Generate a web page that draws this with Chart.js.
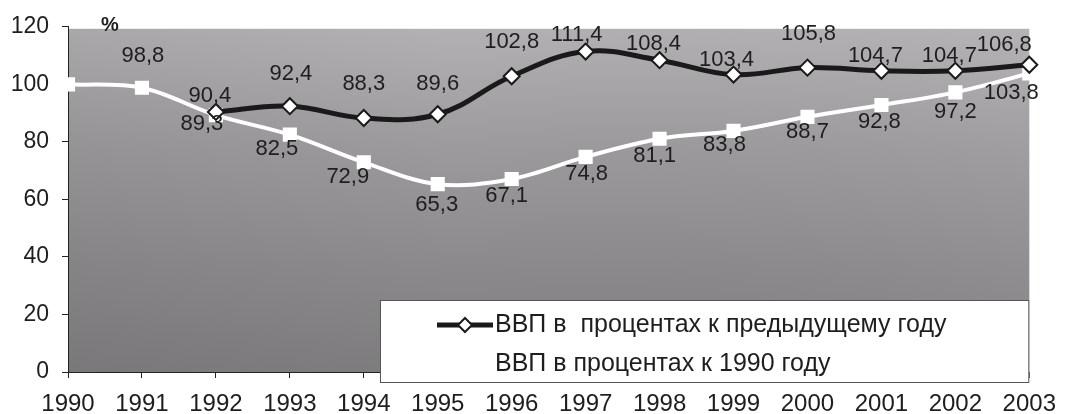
<!DOCTYPE html>
<html><head><meta charset="utf-8">
<script src="https://cdn.jsdelivr.net/npm/chart.js@4.4.1/dist/chart.umd.min.js"></script>
<style>html,body{margin:0;padding:0;background:#fff}#wrap{width:1068px;height:414px;position:relative}</style>
</head><body><div id="wrap"><canvas id="c"></canvas></div>
<script>
// ---- data ----
const years = ['1990','1991','1992','1993','1994','1995','1996','1997','1998','1999','2000','2001','2002','2003'];
const gdpPrevYear = [null,null,90.4,92.4,88.3,89.6,102.8,111.4,108.4,103.4,105.8,104.7,104.7,106.8];
const gdp1990 = [100,98.8,89.3,82.5,72.9,65.3,67.1,74.8,81.1,83.8,88.7,92.8,97.2,103.8];
const yTicks = [0,20,40,60,80,100,120];
const seriesNames = ['ВВП в  процентах к предыдущему году','ВВП в процентах к 1990 году'];
const unitLabel = '%';

// ---- label placement (style, not data) ----
const prevLabelShift = [null,null,[-6,-16],[1,-32],[0,-34],[0,-30],[0,-34],[-9,-17],[-6,-16],[-7,-15],[1,-34],[-6,-15],[-6,-15],[-25,-20]];
const baseLabelShift = [null,[1,-32],[-14,9],[-13,14],[-16,15],[-1,21],[-5,17],[1,17],[-5,17],[-9,14],[0,15],[-2,17],[0,20],[-18,20]];

const FONT = '"Liberation Sans", Arial, sans-serif';
const fmt = v => v.toFixed(1).replace('.', ',');

const bgPlugin = {
  id: 'bg',
  beforeDraw(chart) {
    const {ctx, chartArea: a} = chart;
    ctx.save();
    ctx.fillStyle = '#fff';
    ctx.fillRect(0, 0, chart.width, chart.height);
    const g = ctx.createLinearGradient(0, a.top, 0, a.bottom);
    g.addColorStop(0, '#b3b1b3');
    g.addColorStop(0.35, '#9c9a9c');
    g.addColorStop(0.7, '#8b898b');
    g.addColorStop(1, '#7f7d7f');
    ctx.fillStyle = g;
    ctx.fillRect(a.left, a.top + 2, a.right - a.left, a.bottom - a.top - 2);
    const h = ctx.createLinearGradient(a.left, 0, a.right, 0);
    h.addColorStop(0, 'rgba(60,60,60,0.08)');
    h.addColorStop(0.4, 'rgba(60,60,60,0.0)');
    h.addColorStop(1, 'rgba(220,220,220,0.06)');
    ctx.fillStyle = h;
    ctx.fillRect(a.left, a.top + 2, a.right - a.left, a.bottom - a.top - 2);
    ctx.restore();
  }
};

const labelPlugin = {
  id: 'vlabels',
  afterDatasetsDraw(chart) {
    const {ctx} = chart;
    ctx.save();
    ctx.font = '22px ' + FONT;
    ctx.fillStyle = '#1e1e1e';
    ctx.textAlign = 'center';
    ctx.textBaseline = 'middle';
    const shifts = [prevLabelShift, baseLabelShift];
    chart.data.datasets.forEach((ds, di) => {
      const meta = chart.getDatasetMeta(di);
      meta.data.forEach((pt, i) => {
        const v = ds.data[i];
        const s = shifts[di][i];
        if (v == null || !s) return;
        ctx.fillText(fmt(v), pt.x + s[0], pt.y + s[1]);
      });
    });
    ctx.restore();
  }
};

const overlayPlugin = {
  id: 'overlay',
  afterDraw(chart) {
    const {ctx, chartArea: a} = chart;
    ctx.save();
    // unit label
    ctx.font = 'bold 20px ' + FONT;
    ctx.fillStyle = '#1e1e1e';
    ctx.textAlign = 'left';
    ctx.textBaseline = 'middle';
    ctx.fillText(unitLabel, 101, 25);
    // legend box
    const bx = 380, by = 300, bw = a.right - 380, bh = 83;
    ctx.fillStyle = '#fff';
    ctx.fillRect(bx, by, bw, bh);
    ctx.strokeStyle = '#555';
    ctx.lineWidth = 1;
    ctx.strokeRect(bx + 0.5, by + 0.5, bw - 1, bh - 1);
    // marker
    const my = 325;
    ctx.strokeStyle = '#1a1a1a';
    ctx.lineWidth = 5;
    ctx.beginPath(); ctx.moveTo(437, my); ctx.lineTo(493, my); ctx.stroke();
    ctx.fillStyle = '#fff';
    ctx.lineWidth = 2;
    ctx.beginPath();
    ctx.moveTo(465, my - 7); ctx.lineTo(472, my); ctx.lineTo(465, my + 7); ctx.lineTo(458, my); ctx.closePath();
    ctx.fill(); ctx.stroke();
    ctx.font = '25px ' + FONT;
    ctx.fillStyle = '#1e1e1e';
    ctx.textBaseline = 'middle';
    ctx.fillText(seriesNames[0], 495, my);
    ctx.fillText(seriesNames[1], 495, 364);
    ctx.restore();
  }
};

new Chart(document.getElementById('c'), {
  type: 'line',
  data: {
    labels: years,
    datasets: [
      {
        label: seriesNames[0],
        data: gdpPrevYear,
        borderColor: '#1a1a1a',
        borderWidth: 5,
        tension: 0.4,
        pointStyle: 'rectRot',
        pointRadius: 8,
        pointBackgroundColor: '#fff',
        pointBorderColor: '#1a1a1a',
        pointBorderWidth: 2,
        spanGaps: false
      },
      {
        label: seriesNames[1],
        data: gdp1990,
        borderColor: '#ffffff',
        borderWidth: 4,
        tension: 0.35,
        pointStyle: 'rect',
        pointRadius: 10,
        pointBackgroundColor: '#fff',
        pointBorderColor: '#fff',
        pointBorderWidth: 0
      }
    ]
  },
  options: {
    responsive: true,
    maintainAspectRatio: false,
    animation: false,
    devicePixelRatio: 1,
    layout: { padding: { left: 0, right: 28, top: 26, bottom: 0 } },
    plugins: { legend: { display: false }, tooltip: { enabled: false } },
    scales: {
      x: {
        type: 'category',
        offset: false,
        grid: { display: true, drawOnChartArea: false, drawTicks: true, tickLength: 6, color: '#222' },
        border: { display: true, color: '#222', width: 1 },
        ticks: { color: '#1e1e1e', font: { family: FONT, size: 24 }, padding: 12, maxRotation: 0, autoSkip: false },
        afterFit: s => { s.height = 42; }
      },
      y: {
        min: 0, max: 120,
        afterBuildTicks: s => { s.ticks = yTicks.map(v => ({ value: v })); },
        grid: { display: true, drawOnChartArea: false, drawTicks: true, tickLength: 6, color: '#222' },
        border: { display: true, color: '#222', width: 1 },
        ticks: { color: '#1e1e1e', font: { family: FONT, size: 23 }, padding: 13 },
        afterFit: s => { s.width = 68; }
      }
    }
  },
  plugins: [bgPlugin, labelPlugin, overlayPlugin]
});
</script>
</body></html>
